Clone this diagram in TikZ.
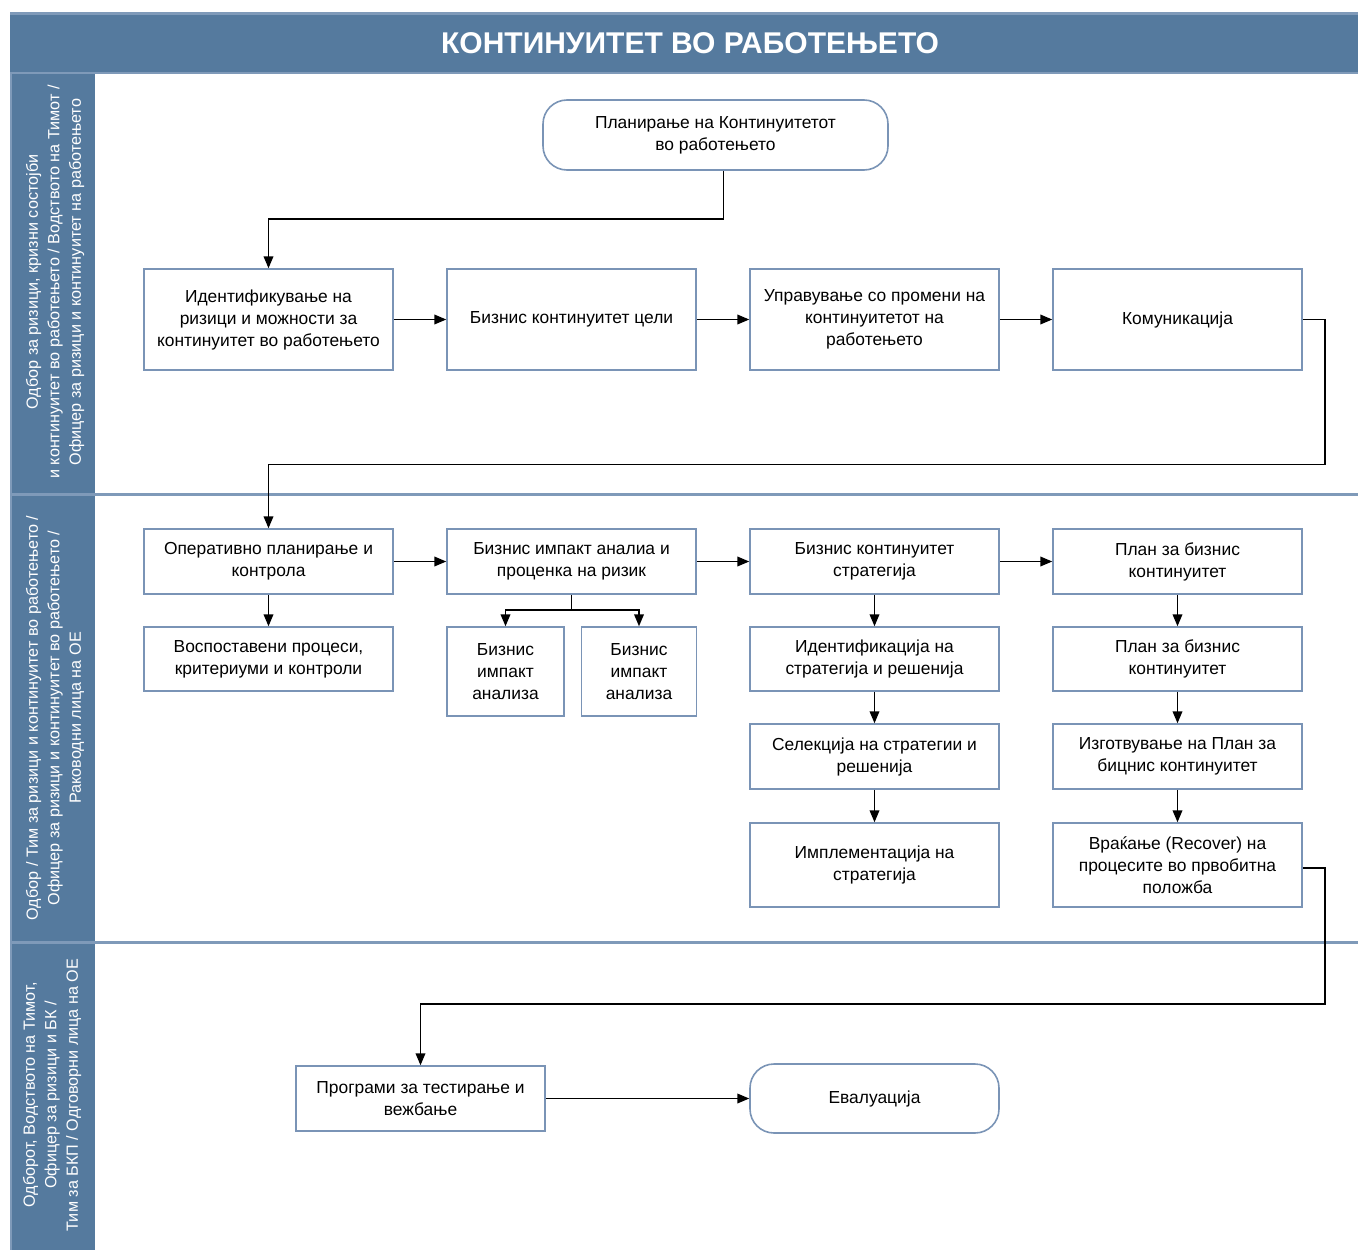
\documentclass[tikz,border=0pt]{standalone}
\usepackage{fontspec}
\setmainfont{Liberation Sans}
\usetikzlibrary{arrows}

\definecolor{lanefill}{HTML}{557A9E}
\definecolor{laneline}{HTML}{7F9AB9}
\definecolor{boxline}{HTML}{7A94B6}

\begin{document}
\begin{tikzpicture}[x=1pt, y=-1pt, >=triangle 45,
  box/.style={draw=boxline, line width=1.6pt, fill=white, align=center,
    minimum width=249pt, inner sep=2pt, font=\fontsize{17.4}{22}\selectfont},
  roundbox/.style={box, rounded corners=24pt},
  flow/.style={->, line width=1.8pt},
  lanetxt/.style={rotate=90, text=white, align=center, font=\fontsize{16.2}{21.5}\selectfont}]
  \useasboundingbox (0,0) rectangle (1358,1250);
  \fill [lanefill] (10,12) rectangle (1358,72);
  \fill [laneline] (10,12) rectangle (1358,15);
  \fill [lanefill] (10,74) rectangle (95,1250);
  \draw [laneline, line width=2.5pt] (10,73) -- (1358,73);
  \draw [laneline, line width=2.5pt] (11,74) -- (11,1250);
  \draw [laneline, line width=3pt] (10,494) -- (1358,494);
  \draw [laneline, line width=3pt] (10,942) -- (1358,942);
  \node [text=white, font=\bfseries\fontsize{30}{32}\selectfont] (title) at (690,43) {КОНТИНУИТЕТ ВО РАБОТЕЊЕТО};
  \node [lanetxt] (lane1) at (55,282) {Одбор за ризици, кризни состојби\\и континуитет во работењето / Водството на Тимот /\\Офицер за ризици и континуитет на работењето};
  \node [lanetxt] (lane2) at (55,718) {Одбор / Тим за ризици и континуитет во работењето /\\Офицер за ризици и континуитет во работењето /\\Раководни лица на ОЕ};
  \node [lanetxt] (lane3) at (52,1095) {Одборот, Водството на Тимот,\\Офицер за ризици и БК /\\Тим за БКП / Одговорни лица на ОЕ};

  \node [roundbox, minimum width=345pt, minimum height=70pt] (start) at (715.5,135) {Планирање на Континуитетот\\во работењето};

  \node [box, minimum height=101pt] (a1) at (268.5,319.5) {Идентификување на\\ризици и можности за\\континуитет во работењето};
  \node [box, minimum height=101pt] (a2) at (571.5,319.5) {Бизнис континуитет цели};
  \node [box, minimum height=101pt] (a3) at (874.5,319.5) {Управување со промени на\\континуитетот на\\работењето};
  \node [box, minimum height=101pt] (a4) at (1177.5,319.5) {Комуникација};

  \node [box, minimum height=65pt] (b1) at (268.5,561.5) {Оперативно планирање и\\контрола};
  \node [box, minimum height=65pt] (b2) at (571.5,561.5) {Бизнис импакт аналиа и\\проценка на ризик};
  \node [box, minimum height=65pt] (b3) at (874.5,561.5) {Бизнис континуитет\\стратегија};
  \node [box, minimum height=65pt] (b4) at (1177.5,561.5) {План за бизнис\\континуитет};

  \node [box, minimum height=64pt] (c1) at (268.5,659) {Воспоставени процеси,\\критериуми и контроли};
  \node [box, minimum width=117pt, minimum height=89pt] (c2a) at (505.5,671.5) {Бизнис\\импакт\\анализа};
  \node [box, minimum width=115pt, minimum height=89pt] (c2b) at (639,671.5) {Бизнис\\импакт\\анализа};
  \node [box, minimum height=64pt] (c3) at (874.5,659) {Идентификација на\\стратегија и решенија};
  \node [box, minimum height=64pt] (c4) at (1177.5,659) {План за бизнис\\континуитет};

  \node [box, minimum height=65pt] (d3) at (874.5,756.5) {Селекција на стратегии и\\решенија};
  \node [box, minimum height=65pt] (d4) at (1177.5,756.5) {Изготвување на План за\\бицнис континуитет};

  \node [box, minimum height=84pt] (e3) at (874.5,865) {Имплементација на\\стратегија};
  \node [box, minimum height=84pt] (e4) at (1177.5,865) {Враќање (Recover) на\\процесите во првобитна\\положба};

  \node [box, minimum height=65pt] (f1) at (420.5,1098.5) {Програми за тестирање и\\вежбање};
  \node [roundbox, minimum height=69pt] (f2) at (874.5,1098.5) {Евалуација};

  \draw [flow] ([xshift=8]start.south) -- ++(0,48) -| (a1.north);
  \draw [flow] (a1) -- (a2);
  \draw [flow] (a2) -- (a3);
  \draw [flow] (a3) -- (a4);
  \draw [flow] (a4.east) -- ++(22,0) -- ++(0,145) -| (b1.north);
  \draw [flow] (b1) -- (b2);
  \draw [flow] (b2) -- (b3);
  \draw [flow] (b3) -- (b4);
  \draw [flow] (b1) -- (c1);
  \draw [line width=1.8pt] (b2.south) -- ++(0,15) coordinate (split);
  \draw [flow] (split) -| (c2a.north);
  \draw [flow] (split) -| (c2b.north);
  \draw [flow] (b3) -- (c3);
  \draw [flow] (c3) -- (d3);
  \draw [flow] (d3) -- (e3);
  \draw [flow] (b4) -- (c4);
  \draw [flow] (c4) -- (d4);
  \draw [flow] (d4) -- (e4);
  \draw [flow] ([yshift=-3]e4.east) -- ++(22,0) -- ++(0,136) -| (f1.north);
  \draw [flow] (f1) -- (f2);
\end{tikzpicture}
\end{document}
